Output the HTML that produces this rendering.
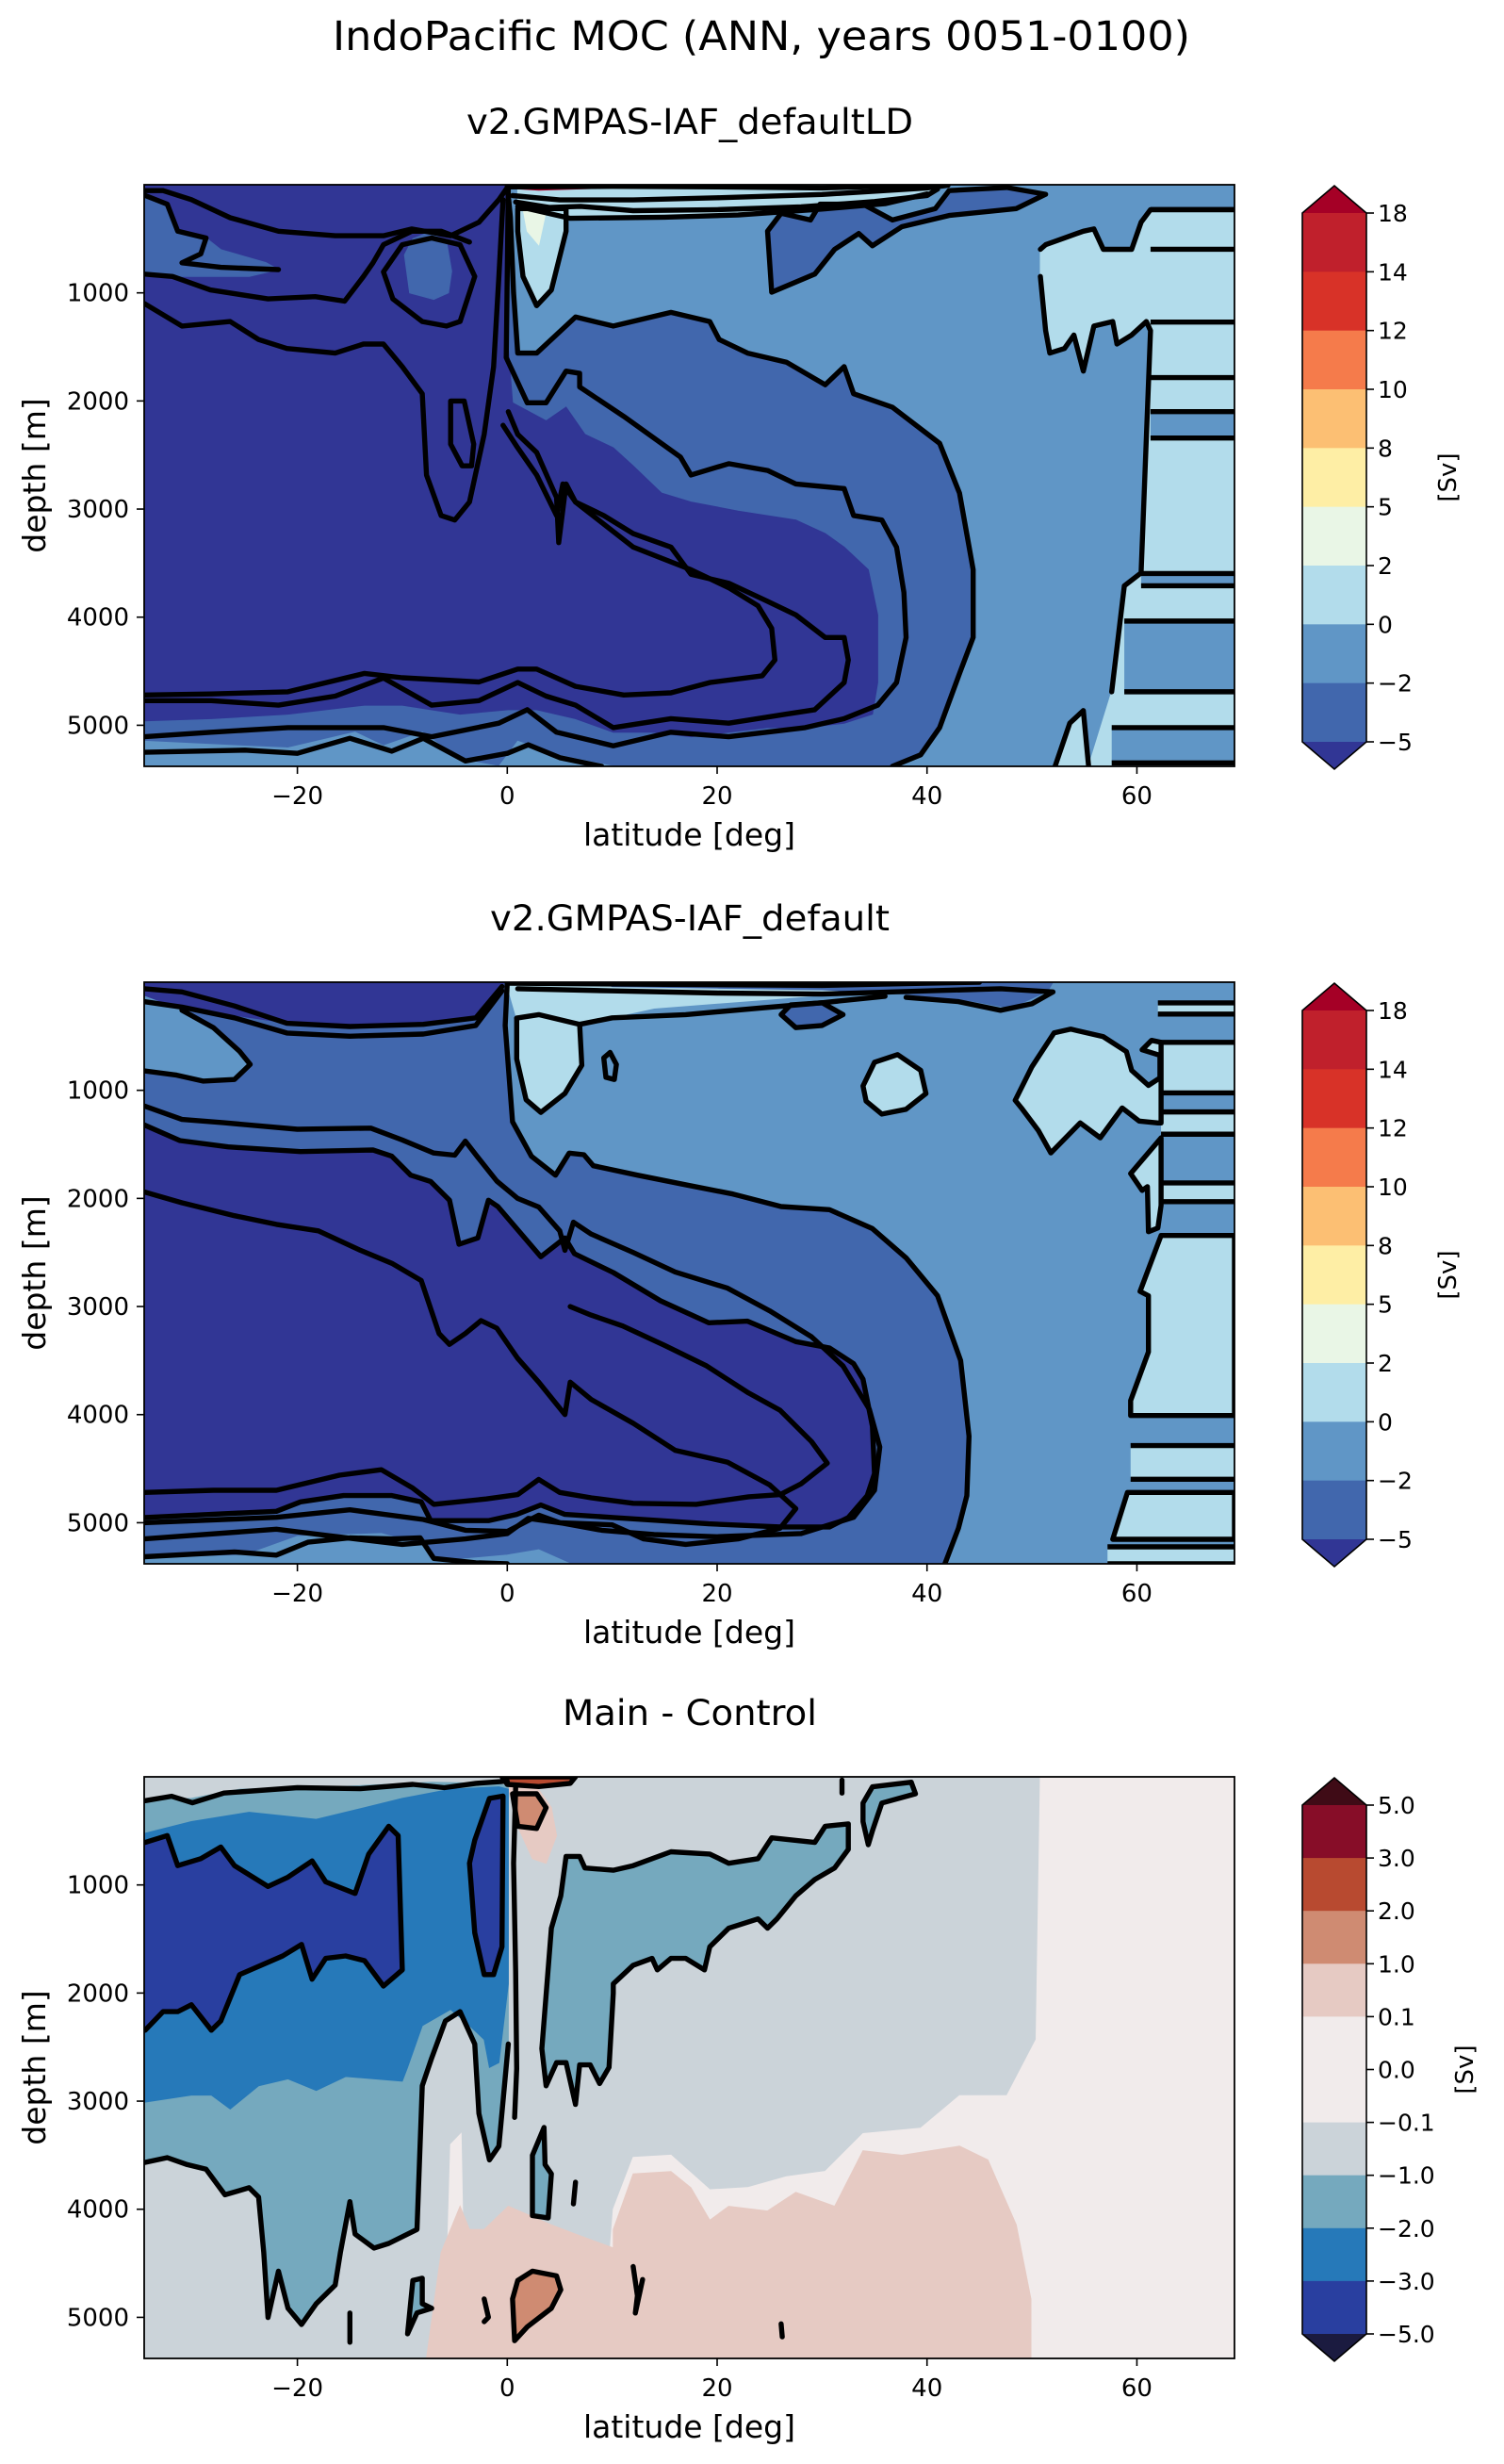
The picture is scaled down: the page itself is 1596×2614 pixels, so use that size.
<!DOCTYPE html>
<html><head><meta charset="utf-8"><title>IndoPacific MOC</title>
<style>
html,body{margin:0;padding:0;background:#fff;}
svg{display:block;font-family:"DejaVu Sans","Liberation Sans",sans-serif;}
</style></head>
<body>
<svg id="fig" width="1596" height="2614" viewBox="0 0 1596 2614" xmlns="http://www.w3.org/2000/svg">
<rect width="1596" height="2614" fill="#fff"/>
<text x="808" y="53" font-size="43" text-anchor="middle" textLength="910" lengthAdjust="spacingAndGlyphs">IndoPacific MOC (ANN, years 0051-0100)</text>
<text x="732" y="142" font-size="37" text-anchor="middle" textLength="474" lengthAdjust="spacingAndGlyphs">v2.GMPAS-IAF_defaultLD</text>
<text x="732" y="987" font-size="37" text-anchor="middle" textLength="424" lengthAdjust="spacingAndGlyphs">v2.GMPAS-IAF_default</text>
<text x="732" y="1830" font-size="37" text-anchor="middle" textLength="270" lengthAdjust="spacingAndGlyphs">Main - Control</text>
<g id="p1"></g>
<g id="p2"></g>
<g id="p3"></g>
</svg>
<script>
// ---------- axis data ----------
const latTicks = [-20, 0, 20, 40, 60];
const latTickLabels = ['\u221220', '0', '20', '40', '60'];
const depthTicks = [1000, 2000, 3000, 4000, 5000];
const depthTickLabels = ['1000', '2000', '3000', '4000', '5000'];
const cb1Levels = ['18', '14', '12', '10', '8', '5', '2', '0', '\u22122', '\u22125'];
const cb1Colors = ['#c0202c', '#d83228', '#f57b4b', '#fcbf73', '#feeea5', '#e9f6e6', '#b2dceb', '#6096c6', '#4167ad'];
const cb3Levels = ['5.0', '3.0', '2.0', '1.0', '0.1', '0.0', '\u22120.1', '\u22121.0', '\u22122.0', '\u22123.0', '\u22125.0'];
const cb3Colors = ['#870d28', '#b84a30', '#cf8b72', '#e6cac3', '#f1ebeb', '#f1ebeb', '#cbd3d9', '#75a9be', '#2679b9', '#293fa0'];

// ---------- panel 1 contour data [lat, depth] ----------
const p1Mid = [[-34.6,0],[0,0],[0.3,300],[0.6,1000],[1,1557],[2.8,1557],[6.5,1223],[10.1,1307],[15.6,1181],[19.3,1265],[20.2,1432],[22.9,1557],[26.6,1641],[30.3,1850],[32.1,1683],[33,1933],[36.7,2058],[41.2,2392],[43.1,2852],[44.4,3561],[44.4,4187],[43.1,4522],[41.2,5022],[39.4,5273],[36.7,5380],[-34.6,5380]];
const p1MidTR = [[25.2,994],[24.8,430],[26.1,263],[28.9,326],[29.8,180],[33.9,180],[36.7,326],[40.8,221],[42.1,54],[47.6,25],[51.3,88],[48.5,221],[42.1,284],[37.6,388],[34.8,564],[33.5,451],[31.2,597],[29.3,827]];
const p1Navy = [[-34.6,0],[0.1,0],[-0.1,1265],[0.5,2017],[3.7,2184],[5.6,2058],[7.4,2309],[10.1,2434],[12,2601],[14.7,2852],[17.5,2935],[22,3019],[27.5,3102],[30.3,3227],[32.1,3352],[34.4,3561],[35.3,3979],[35.3,4605],[34.8,4897],[32.1,4981],[28.4,5022],[24.8,5022],[21.1,5064],[17.5,5106],[13.8,5064],[10.1,5064],[6.5,4939],[2.8,4856],[0.1,4856],[-4.5,4897],[-10,4814],[-13.6,4814],[-20.9,4897],[-28.2,4939],[-34.6,4960]];
const p1MidTL = [[-34.6,96],[-32.4,180],[-31.4,430],[-28.7,493],[-27.3,600],[-23,720],[-21.8,785],[-24.6,848],[-34.6,848]];
const p1Mid8 = [[-9.8,650],[-9,500],[-7.5,440],[-5.8,520],[-5.3,800],[-5.6,1000],[-7,1060],[-9.3,1000]];
const p1BottomLight = [[-34.6,5148],[-25.5,5190],[-20.9,5210],[-14.5,5064],[-11.8,5190],[-8.1,5064],[-4.5,5315],[-0.8,5380],[1,5148],[4.7,5273],[10.1,5380],[-34.6,5380]];
const p1SurfLight = [[1,0],[41.2,0],[40.3,54],[35.7,138],[29.3,180],[23.9,242],[17.5,284],[11.1,305],[6.5,305],[1,180]];
const p1Wedge = [[1,221],[5.6,221],[5.6,430],[4.2,973],[2.8,1119],[1.5,848],[1,430]];
const p1WedgeGreen = [[1.5,221],[3.7,242],[3,555],[1.9,430]];
const p1Red = [[0.2,0],[11,0],[8,35],[3,50],[0.5,35]];
const p1RightLight = [[50.8,597],[51.3,555],[54.9,430],[55.9,409],[56.8,597],[59.5,597],[60.4,347],[61.3,230],[69.3,230],[69.3,5380],[55.4,5380],[57.6,4690],[58.8,3710],[60.4,3590],[61.3,1349],[60.9,1265],[59.5,1390],[58.1,1474],[57.7,1265],[55.9,1307],[54.9,1724],[54,1390],[53.1,1515],[51.7,1557],[51.3,1349],[50.8,848]];
const p1Stripes = [[2099,2343,61.3],[3596,3710,60.4],[4036,4690,58.8],[5022,5348,57.6]];
const p1StripeLines = [[230,61.3],[597,61.3],[1270,61.3],[1784,61.3]];
const p1Sliver = [[52.2,5380],[53.6,4981],[54.9,4864],[55.4,5380]];
const p1LineB = [[0.1,13],[-0.1,1599],[1.9,2017],[3.7,2017],[5.6,1724],[6.9,1745],[6.9,1870],[11.1,2142],[16.5,2518],[17.5,2685],[21.1,2580],[24.8,2643],[27.5,2768],[32.1,2810],[33,3060],[35.7,3102],[37.1,3353],[37.8,3770],[38,4188],[37.1,4605],[35.3,4814],[32.1,4939],[28.4,5022],[21.1,5106],[15.6,5064],[10.1,5190],[4.7,5064],[1.9,4856],[-0.8,4981],[-7.2,5106],[-11.8,5022],[-20.9,5022],[-28.2,5064],[-34.6,5106]];
const p1LineC = [[0.1,2100],[1,2309],[2.8,2476],[4.7,2893],[4.9,3311],[5.6,2768],[6.5,2935],[9.2,3060],[12,3227],[15.6,3352],[17.5,3603],[19.3,3645],[21.1,3686],[24.8,3853],[27.5,3979],[30.3,4188],[32.1,4188],[32.5,4396],[32.1,4605],[29.3,4856],[26.6,4897],[21.1,4981],[15.6,4939],[10.1,5022],[6.5,4814],[3.7,4730],[1,4605],[-2.7,4772],[-7.2,4814],[-11.8,4563],[-16.4,4730],[-21.8,4814],[-28.2,4772],[-34.6,4772]];
const p1LineD = [[-0.4,2225],[1,2434],[2.8,2685],[4.7,3060],[5.3,2768],[6.5,2935],[12,3352],[17.5,3561],[21.1,3728],[23.9,3895],[25.2,4104],[25.5,4396],[24.3,4542],[19.3,4605],[15.6,4700],[11.1,4720],[6.5,4640],[2.8,4480],[1,4480],[-2.7,4600],[-10,4560],[-13.6,4520],[-20.9,4690],[-28.2,4710],[-34.6,4720]];
const p1LineE = [[-34.6,54],[-32.8,54],[-30.1,138],[-26.4,305],[-21.8,430],[-16.4,472],[-11.8,472],[-9.1,409],[-5.4,472],[-2.7,347],[-0.8,138],[0.1,13]];
const p1Line8 = [[-11.8,806],[-10,555],[-7.2,493],[-4.5,555],[-3.1,848],[-4.5,1265],[-5.8,1307],[-8.1,1265],[-10.9,1056],[-11.8,806]];
const p1LineG = [[-34.6,827],[-31.9,848],[-28.3,973],[-22.8,1056],[-18.3,1035],[-15.5,1077],[-13.7,848],[-12.8,722],[-11.8,555],[-9.1,430],[-6.3,430],[-3.6,530]];
const p1LineH = [[-34.6,1098],[-31,1307],[-26.4,1265],[-23.7,1432],[-21,1515],[-16.4,1557],[-13.7,1474],[-11.8,1474],[-10,1683],[-8.1,1933],[-7.7,2685],[-6.3,3060],[-5,3102],[-3.6,2935],[-2.2,2309],[-1.3,1683],[-0.8,848],[-0.4,138]];
const p1LineI = [[-5.4,2000],[-4.1,2000],[-3.2,2400],[-3.4,2600],[-4.3,2600],[-5.4,2400],[-5.4,2000]];
const p1LineTL = [[-34.6,96],[-32.4,180],[-31.4,430],[-28.7,493],[-29.2,639],[-31,722],[-27.3,764],[-21.8,785]];
const p1Surf1 = [[0,20],[10,15],[20,20],[30,30],[38,10],[42,0]];
const p1Surf2 = [[0.5,100],[5,140],[12,140],[20,120],[30,90],[40,30],[42,5]];
const p1Surf3 = [[0.8,160],[4,210],[7,200],[12,240],[20,230],[28,205],[35,155],[40,100],[41,40]];
const p1Surf4 = [[1,200],[6,310],[15,300],[22,280],[30,225],[36,175],[40,85]];
const p1BotL1 = [[-34.6,5250],[-25,5230],[-20,5260],[-15,5120],[-11,5240],[-8,5120],[-4,5330],[0,5260],[2,5180],[5,5300],[9,5380]];

// ---------- panel 2 contour data ----------
const p2Mid = [[-34.6,0],[0,0],[-0.2,400],[0.5,1291],[2.3,1610],[4.6,1785],[5.9,1581],[7.3,1596],[8.2,1698],[12.4,1785],[16.9,1872],[21.5,1959],[26.1,2075],[30.7,2104],[34.8,2279],[38,2550],[41,2900],[43.2,3500],[44,4200],[43.8,4750],[43,5050],[41.7,5380],[-34.6,5380]];
const p2NavyTop = [[-34.6,0],[-0.3,0],[-1.5,200],[-3,330],[-10,400],[-20,390],[-30,250],[-34.6,200]];
const p2PatchTL = [[-34.6,130],[-31,260],[-28,420],[-25.5,640],[-24.5,760],[-26,900],[-29,915],[-31.5,860],[-34.6,820]];
const p2Navy = [[-34.6,1320],[-31.2,1465],[-26.6,1523],[-19.7,1567],[-12.8,1552],[-11,1610],[-9.2,1785],[-7.3,1843],[-5.5,2017],[-4.6,2424],[-2.8,2366],[-1.8,2017],[-0.9,2075],[0.9,2279],[3.2,2540],[5.5,2366],[6.4,2511],[10.1,2686],[14.6,2947],[19.2,3150],[22.9,3136],[27.5,3325],[30.7,3383],[33,3528],[33.9,3673],[34.8,4109],[35,4545],[34.3,4749],[32.5,4952],[30.7,5039],[26.1,5039],[19.2,5010],[14.6,4981],[10.1,4952],[5.5,4923],[3.2,4836],[0.9,4923],[-1.8,4981],[-7.3,4981],[-8.2,4807],[-11,4749],[-15.6,4749],[-19.7,4807],[-22,4894],[-34.6,4952]];
const p2BottomLight = [[-34.6,5330],[-25,5300],[-20,5126],[-12,5100],[-8.2,5200],[-7,5360],[0,5300],[3,5250],[6,5380],[-34.6,5380]];
const p2EqLight = [[0,30],[37,0],[36,40],[30,120],[22,180],[14,240],[6.9,390],[7.1,768],[5.5,1029],[3.2,1204],[1.8,1087],[0.9,710],[0.9,332]];
const p2SurfMid = [[9,0],[52,0],[51.5,80],[48,240],[44,170],[38,110],[30,70],[20,55],[10,40]];
const p2PatchA = [[26.1,300],[27,210],[30,190],[32,300],[30,400],[27.5,420]];
const p2Ellipse = [[33.9,960],[35,740],[37.2,670],[39.4,815],[39.9,1030],[38,1175],[35.7,1220],[34.2,1100]];
const p2Loop = [[9.2,700],[9.8,650],[10.4,760],[10.2,900],[9.4,880]];
const p2Blob = [[48.4,1093],[50,781],[52.1,469],[53.7,434],[56.8,504],[59,642],[59.5,816],[61.1,955],[62.2,885],[62.2,677],[60.5,625],[61.4,538],[62.3,556],[62.3,1302],[62,1302],[60.2,1284],[58.6,1163],[56.5,1440],[54.6,1302],[51.8,1579],[50.6,1371],[49,1163]];
const p2Blob2 = [[62.3,1440],[59.4,1770],[60.5,1926],[61,1891],[61.1,2308],[62,2273],[62.3,2065]];
const p2Boxes = [[191,295,62],[556,1024,62.3],[1200,1406,62.3],[1857,2030,62.3],[4286,4598,59.4],[5223,5400,57.2]];
const p2BigBox = [[62.3,2343],[69.3,2343],[69.3,4008],[59.4,4008],[59.4,3870],[61.1,3420],[61.1,2900],[60.3,2860],[62.3,2343]];
const p2SlantBox = [[59.1,4720],[69.3,4720],[69.3,5153],[57.7,5153]];
const p2LineM = [[-34.6,1145],[-31,1270],[-27,1300],[-20,1360],[-13,1350],[-10,1460],[-7,1580],[-5,1600],[-4,1470],[-2.8,1620],[-1,1840],[1,2000],[3,2080],[5,2300],[5.5,2480],[6.3,2220],[8,2330],[12,2500],[16,2680],[21,2830],[25,3040],[29,3280],[32,3550],[34.5,3950],[35.5,4300],[35,4700],[33,4950],[28,5100],[20,5130],[14,5110],[9,5070],[5,5000],[3,4930],[0,5080],[-4,5070],[-8,4970],[-15,4880],[-22,4950],[-34.6,5000]];
const p2LineN = [[-34.6,1940],[-31,2040],[-26,2160],[-22,2240],[-18,2300],[-14,2480],[-11,2600],[-8.2,2760],[-6.5,3250],[-5.5,3350],[-4,3250],[-2.5,3130],[-1,3200],[1,3480],[3,3700],[5.5,4000],[6,3700],[8,3860],[12,4080],[16,4330],[21,4440],[25,4650],[27.5,4870],[26,5050],[22,5150],[17,5200],[13,5150],[10,5020],[5,5000],[2,4960],[0,5100],[-4,5150],[-10,5200],[-17,5120],[-22,5060],[-34.6,5150]];
const p2LineO = [[-34.6,4720],[-28,4700],[-22,4700],[-16,4560],[-12,4510],[-9,4680],[-7,4830],[-2,4780],[1,4740],[3,4600],[5,4720],[8,4770],[12,4820],[18,4830],[23,4760],[26,4740],[28,4640],[30.5,4450],[29,4250],[26,3960],[23,3800],[19,3550],[15,3360],[11,3180],[8,3080],[6,3000]];
const p2LineP = [[-34.6,5315],[-26,5270],[-22,5300],[-19,5180],[-15,5140],[-11,5150],[-8.3,5140],[-7,5330],[-3,5370],[0,5380]];
const p2LineTop = [[-34.6,60],[-31,90],[-26,220],[-21,380],[-15,410],[-8,390],[-3,330],[-0.5,40]];
const p2LineTop2 = [[-34.6,180],[-31,230],[-26,330],[-21,470],[-15,500],[-8,480],[-3,400],[-0.5,80]];
const p2Surf1 = [[0,10],[15,20],[30,30],[40,10],[45,0]];
const p2Surf2 = [[1,60],[10,80],[20,100],[30,110],[40,80],[47,60],[52,90],[50,200],[47,260],[43,180],[38,140]];
const p2Surf3 = [[0.9,332],[3,300],[6.9,390],[10,330],[17,300],[24,240],[30,190],[36,130]];

// ---------- panel 3 contour data ----------
const p3WhiteRight = [[50.8,6],[69.3,6],[69.3,5410],[9,5410],[10.1,4000],[12,3520],[15.6,3500],[19.3,3820],[22.9,3800],[26.6,3700],[30.3,3650],[33.9,3300],[39.4,3250],[43.1,2950],[47.6,2950],[50.4,2430]];
const p3WhiteEq = [[-6,5410],[-5.4,3400],[-4.4,3300],[-4,5410]];
const p3SalmonBig = [[10.1,5410],[10.1,4187],[12,3673],[15.6,3651],[17.5,3801],[19.3,4102],[21.1,3973],[24.8,4016],[27.5,3844],[31.2,3973],[32.1,3801],[33.9,3458],[37.6,3501],[43.1,3416],[45.8,3544],[48.5,4144],[49.9,4831],[49.9,5410]];
const p3SalmonEq = [[-7.7,5410],[-6.3,4402],[-4.5,3973],[-3.6,4187],[-2.2,4187],[0.1,3973],[4.2,4144],[6.5,4230],[10.1,4359],[10.1,5410]];
const p3SalmonTop = [[0.1,92],[2.8,92],[4.2,285],[4.7,543],[3.7,800],[2.4,757],[1,457]];
const p3OrangeBot = [[0.7,5216],[1.9,5088],[4.2,4916],[5.1,4745],[4.7,4616],[2.4,4573],[1,4659],[0.5,4830]];
const p3OrangeTop = [[0.5,157],[2.8,157],[3.7,285],[2.8,478],[1,457]];
const p3RedTop = [[-0.5,0],[6.5,0],[6,60],[3,90],[0,70]];
const p3LightLeft = [[-34.5,221],[-30.1,200],[-25.5,114],[-16.4,92],[-7.2,50],[-0.8,62],[0.1,92],[0.1,2472],[-0.8,3416],[-1.7,3544],[-2.7,3115],[-3.1,2472],[-4.5,2172],[-5.9,2258],[-7.2,2601],[-8.1,2858],[-8.6,4187],[-11.3,4316],[-12.7,4359],[-14.5,4230],[-15,3930],[-15.9,4402],[-16.4,4702],[-18.2,4873],[-19.6,5066],[-20.9,4916],[-21.8,4573],[-22.8,5002],[-23.2,4402],[-23.7,3887],[-24.6,3801],[-26.9,3866],[-28.7,3630],[-30.5,3587],[-32.4,3523],[-34.5,3566]];
const p3Medium = [[-34.5,521],[-30.1,414],[-24.6,328],[-18.2,393],[-13.6,285],[-10,200],[-5.4,114],[-0.8,92],[0.1,114],[0.1,1915],[-0.8,2644],[-1.7,2687],[-2.2,2429],[-3.6,2301],[-5.4,2151],[-8.1,2301],[-9.5,2687],[-10,2815],[-15.4,2772],[-18.2,2901],[-20.9,2794],[-23.7,2858],[-26.4,3073],[-28.2,2944],[-30.1,2944],[-34.5,3008]];
const p3Dark = [[-34.5,607],[-32.4,543],[-31.4,821],[-29.2,757],[-27.3,650],[-26,821],[-22.8,1014],[-20.9,928],[-18.6,778],[-17.3,971],[-14.5,1079],[-13.2,714],[-11.3,457],[-10.4,543],[-10,1786],[-11.8,1936],[-13.6,1700],[-15.4,1657],[-17.3,1679],[-18.6,1872],[-19.6,1550],[-21.4,1657],[-25.5,1829],[-27.3,2258],[-28.2,2344],[-30.1,2108],[-31.4,2172],[-32.8,2172],[-34.5,2344]];
const p3DarkCol = [[-3.1,586],[-1.7,200],[-0.4,178],[-0.5,1572],[-1.3,1829],[-2.2,1829],[-3.1,1443],[-3.6,800]];
const p3LightRight = [[5.6,736],[6.9,736],[7.4,843],[10.1,864],[12,821],[15.6,693],[19.3,714],[21.1,800],[23.9,757],[25.2,564],[29.3,607],[30.3,457],[32.5,435],[32.5,671],[31.2,843],[29.3,950],[27.5,1100],[25.7,1314],[24.8,1400],[23.9,1314],[21.1,1400],[19.3,1572],[18.8,1786],[17,1679],[15.6,1679],[14.3,1786],[13.8,1679],[12,1743],[10.1,1915],[10.1,2001],[9.7,2687],[8.8,2837],[7.9,2665],[6.9,2665],[6.5,3030],[5.6,2644],[4.7,2644],[3.7,2858],[3.3,2515],[4.2,1400],[5.1,1100]];
const p3SmallTop = [[33.9,242],[34.8,92],[38.5,50],[38.9,157],[35.7,242],[34.8,500],[34.4,628],[33.9,414]];
const p3PatchA = [[-9.5,5152],[-9,4659],[-8.1,4638],[-8.1,4873],[-7.2,4916],[-8.6,4959]];
const p3PatchB = [[2.4,3501],[3.5,3244],[3.6,3587],[4.2,3673],[3.9,4080],[2.4,4059]];
const p3EqLine = [[0.8,100],[0.6,800],[0.8,1800],[0.9,2700],[0.7,3150]];
const p3Seg1 = [[6.5,3750],[6.3,3950]];
const p3Seg2 = [[26.1,5060],[26.2,5180]];
const p3Seg3 = [[-15,4960],[-15,5230]];
const p3Seg4 = [[-2.2,4830],[-1.8,5000],[-2.2,5040]];
const p3Seg5 = [[12,4530],[12.4,4800],[12.2,4960],[12.9,4650]];
const p3Seg6 = [[31.9,30],[31.9,150]];
const p3TopLine = [[-34.5,221],[-32,180],[-30,240],[-27,150],[-20,100],[-14,110],[-9,70],[-6,100],[-3,60],[0,40]];

// ---------- geometry ----------
const X0 = 153, X1 = 1310, LAT0 = -34.6, LAT1 = 69.3, DMAX = 5380, PH = 617;
const TOPS = [196, 1042, 1885];
const NS = 'http://www.w3.org/2000/svg';
function xS(lat) { return X0 + (lat - LAT0) / (LAT1 - LAT0) * (X1 - X0); }
function yS(top, d) { return top + Math.min(d, DMAX) / DMAX * PH; }
function mk(tag, attrs, parent) {
  const e = document.createElementNS(NS, tag);
  for (const k in attrs) e.setAttribute(k, attrs[k]);
  parent.appendChild(e);
  return e;
}
function ptsStr(top, arr) { return arr.map(p => xS(p[0]).toFixed(1) + ',' + yS(top, p[1]).toFixed(1)).join(' '); }
function fillPoly(g, top, arr, color, name) {
  const e = mk('polygon', {points: ptsStr(top, arr), fill: color, stroke: color, 'stroke-width': 1}, g);
  
  
  return e;
}
function line(g, top, arr, name, closed) {
  const e = mk(closed ? 'polygon' : 'polyline', {points: ptsStr(top, arr), fill: 'none', stroke: '#000', 'stroke-width': 5.4, 'stroke-linejoin': 'round', 'stroke-linecap': 'round'}, g);
  
  
  return e;
}
function rectBand(g, top, d0, d1, latL, color, name) {
  const e = mk('rect', {x: xS(latL), y: yS(top, d0), width: xS(LAT1) - xS(latL), height: yS(top, d1) - yS(top, d0), fill: color}, g);
  
  
}
function hline(g, top, d, latL, name) {
  const e = mk('line', {x1: xS(latL), x2: xS(LAT1), y1: yS(top, d), y2: yS(top, d), stroke: '#000', 'stroke-width': 5.4}, g);
  
  
}

function axes(g, idx) {
  const top = TOPS[idx];
  const bot = top + PH;
  const fr = mk('rect', {x: X0, y: top, width: X1 - X0, height: PH, fill: 'none', stroke: '#000', 'stroke-width': 1.8}, g);
  
  
  latTicks.forEach((v, i) => {
    const x = xS(v);
    const t = mk('line', {x1: x, x2: x, y1: bot, y2: bot + 8, stroke: '#000', 'stroke-width': 1.6}, g);
    
    
    const l = mk('text', {x: x, y: bot + 40, 'font-size': 26, 'text-anchor': 'middle'}, g);
    l.textContent = latTickLabels[i];
    
    
  });
  depthTicks.forEach((v, i) => {
    const y = yS(top, v);
    const t = mk('line', {x1: X0 - 8, x2: X0, y1: y, y2: y, stroke: '#000', 'stroke-width': 1.6}, g);
    
    
    const l = mk('text', {x: X0 - 16, y: y + 9, 'font-size': 26, 'text-anchor': 'end'}, g);
    l.textContent = depthTickLabels[i];
    
    
  });
  const xl = mk('text', {x: (X0 + X1) / 2, y: bot + 84, 'font-size': 33, 'text-anchor': 'middle'}, g);
  xl.textContent = 'latitude [deg]';
  
  
  const cy = top + PH / 2;
  const yl = mk('text', {x: 0, y: 0, 'font-size': 33, 'text-anchor': 'middle', transform: 'translate(48,' + cy + ') rotate(-90)'}, g);
  yl.textContent = 'depth [m]';
  
  
}

function colorbar(g, idx, colors, labels, extTop, extBot, labelX) {
  const top = TOPS[idx] + 30, h = 561, L = 1382, R = 1450, C = 1416;
  const n = colors.length, bh = h / n;
  colors.forEach((c, i) => {
    const r = mk('rect', {x: L, y: top + i * bh, width: R - L, height: bh + 0.6, fill: c}, g);
    
    
  });
  const t1 = mk('polygon', {points: L + ',' + top + ' ' + C + ',' + (top - 29) + ' ' + R + ',' + top, fill: extTop}, g);
  
  
  const t2 = mk('polygon', {points: L + ',' + (top + h) + ' ' + C + ',' + (top + h + 29) + ' ' + R + ',' + (top + h), fill: extBot}, g);
  
  
  const o = mk('polygon', {points: L + ',' + top + ' ' + C + ',' + (top - 29) + ' ' + R + ',' + top + ' ' + R + ',' + (top + h) + ' ' + C + ',' + (top + h + 29) + ' ' + L + ',' + (top + h), fill: 'none', stroke: '#000', 'stroke-width': 1.6}, g);
  
  
  labels.forEach((s, i) => {
    const y = top + i * bh;
    const t = mk('line', {x1: R, x2: R + 8, y1: y, y2: y, stroke: '#000', 'stroke-width': 1.6}, g);
    
    
    const l = mk('text', {x: 1462, y: y + 9, 'font-size': 25}, g);
    l.textContent = s;
    
    
  });
  const u = mk('text', {x: 0, y: 0, 'font-size': 26, 'text-anchor': 'middle', transform: 'translate(' + labelX + ',' + (top + h / 2) + ') rotate(-90)'}, g);
  u.textContent = '[Sv]';
  
  
}

function clipFor(idx) {
  const svg = document.getElementById('fig');
  let defs = svg.querySelector('defs');
  if (!defs) defs = mk('defs', {}, svg);
  const cp = mk('clipPath', {id: 'clip' + idx}, defs);
  mk('rect', {x: X0, y: TOPS[idx], width: X1 - X0, height: PH}, cp);
  return 'url(#clip' + idx + ')';
}

const C = {navy: '#313695', m52: '#4167ad', m20: '#6096c6', l02: '#b2dceb', g25: '#e9f6e6', red: '#a50026', yel: '#feeea5'};

// ---------- panel 1 ----------
(function () {
  const G = document.getElementById('p1'), top = TOPS[0];
  const g = mk('g', {'clip-path': clipFor(0)}, G);
  const bg = mk('rect', {x: X0, y: top, width: X1 - X0, height: PH, fill: C.m20}, g);
  
  
  fillPoly(g, top, p1Mid, C.m52, 'fill-minus5-minus2');
  fillPoly(g, top, p1MidTR, C.m52, 'fill-minus5-minus2-north');
  fillPoly(g, top, p1Navy, C.navy, 'fill-below-minus5');
  fillPoly(g, top, p1MidTL, C.m52, 'fill-patch-southwest');
  fillPoly(g, top, p1Mid8, C.m52, 'fill-patch-8s');
  fillPoly(g, top, p1BottomLight, C.m20, 'fill-bottom');
  fillPoly(g, top, p1SurfLight, C.l02, 'fill-surface-positive');
  fillPoly(g, top, p1Wedge, C.l02, 'fill-equator-wedge');
  fillPoly(g, top, p1WedgeGreen, C.g25, 'fill-equator-2-5');
  fillPoly(g, top, p1Red, C.red, 'fill-surface-max');
  fillPoly(g, top, p1RightLight, C.l02, 'fill-north-positive');
  p1Stripes.forEach(s => rectBand(g, top, s[0], s[1], s[2], C.m20, 'fill-north-stripe'));
  fillPoly(g, top, p1Sliver, C.l02, 'fill-north-sliver');
  line(g, top, p1Mid.slice(1, -1), 'contour-minus2');
  [p1LineB, p1LineC, p1LineD, p1LineE, p1LineG, p1LineH, p1LineTL, p1Surf1, p1Surf2, p1Surf3, p1Surf4, p1BotL1].forEach(a => line(g, top, a, 'contour-line'));
  line(g, top, p1Line8, 'contour-loop', true);
  line(g, top, p1LineI, 'contour-loop', true);
  line(g, top, p1MidTR, 'contour-north-patch', true);
  line(g, top, p1Wedge, 'contour-equator-wedge', true);
  line(g, top, p1RightLight.slice(0, 8).concat([[69.3, 230]]), 'contour-north-positive');
  line(g, top, p1RightLight.slice(11), 'contour-north-positive');
  line(g, top, p1Sliver, 'contour-north-sliver');
  p1Stripes.forEach(s => { hline(g, top, s[0], s[2], 'contour-stripe'); hline(g, top, s[1], s[2], 'contour-stripe'); });
  p1StripeLines.forEach(s => hline(g, top, s[0], s[1], 'contour-stripe'));
  axes(G, 0);
  colorbar(G, 0, cb1Colors, cb1Levels, C.red, C.navy, 1545);
})();

// ---------- panel 2 ----------
(function () {
  const G = document.getElementById('p2'), top = TOPS[1];
  const g = mk('g', {'clip-path': clipFor(1)}, G);
  const bg = mk('rect', {x: X0, y: top, width: X1 - X0, height: PH, fill: C.m20}, g);
  
  
  fillPoly(g, top, p2Mid, C.m52, 'fill-minus5-minus2');
  fillPoly(g, top, p2NavyTop, C.navy, 'fill-surface-negative');
  fillPoly(g, top, p2PatchTL, C.m20, 'fill-patch-southwest');
  fillPoly(g, top, p2Navy, C.navy, 'fill-below-minus5');
  fillPoly(g, top, p2BottomLight, C.m20, 'fill-bottom');
  fillPoly(g, top, p2EqLight, C.l02, 'fill-equator-positive');
  fillPoly(g, top, p2SurfMid, C.m52, 'fill-surface-band');
  fillPoly(g, top, p2PatchA, C.m52, 'fill-patch-north');
  fillPoly(g, top, p2Ellipse, C.l02, 'fill-ellipse');
  fillPoly(g, top, p2Blob, C.l02, 'fill-north-blob');
  fillPoly(g, top, p2Blob2, C.l02, 'fill-north-blob2');
  p2Boxes.forEach(b => rectBand(g, top, b[0], b[1], b[2], C.l02, 'fill-north-box'));
  fillPoly(g, top, p2BigBox, C.l02, 'fill-north-box');
  fillPoly(g, top, p2SlantBox, C.l02, 'fill-north-box');
  line(g, top, p2Mid.slice(1, -1), 'contour-minus2');
  [p2LineM, p2LineN, p2LineO, p2LineP, p2LineTop, p2LineTop2, p2Surf1, p2Surf2, p2Surf3].forEach(a => line(g, top, a, 'contour-line'));
  line(g, top, p2Navy, 'contour-minus5', false);
  line(g, top, p2PatchTL.slice(1), 'contour-patch');
  line(g, top, p2EqLight.slice(6), 'contour-equator');
  line(g, top, p2PatchA, 'contour-patch', true);
  line(g, top, p2Ellipse, 'contour-ellipse', true);
  line(g, top, p2Loop, 'contour-loop', true);
  line(g, top, p2Blob, 'contour-blob', true);
  line(g, top, p2Blob2, 'contour-blob', true);
  p2Boxes.forEach(b => { hline(g, top, b[0], b[2], 'contour-box'); hline(g, top, b[1], b[2], 'contour-box'); });
  line(g, top, p2BigBox, 'contour-box', true);
  line(g, top, p2SlantBox, 'contour-box', true);
  axes(G, 1);
  colorbar(G, 1, cb1Colors, cb1Levels, C.red, C.navy, 1545);
})();

// ---------- panel 3 ----------
(function () {
  const G = document.getElementById('p3'), top = TOPS[2];
  const g = mk('g', {'clip-path': clipFor(2)}, G);
  const bg = mk('rect', {x: X0, y: top, width: X1 - X0, height: PH, fill: '#cbd3d9'}, g);
  
  
  fillPoly(g, top, p3WhiteRight, '#f1ebeb', 'fill-near-zero-north');
  fillPoly(g, top, p3WhiteEq, '#f1ebeb', 'fill-near-zero-equator');
  fillPoly(g, top, p3SalmonBig, '#e6cac3', 'fill-0p1-1');
  fillPoly(g, top, p3SalmonEq, '#e6cac3', 'fill-0p1-1-equator');
  fillPoly(g, top, p3SalmonTop, '#e6cac3', 'fill-0p1-1-top');
  fillPoly(g, top, p3OrangeBot, '#cf8b72', 'fill-1-2-bottom');
  fillPoly(g, top, p3OrangeTop, '#cf8b72', 'fill-1-2-top');
  fillPoly(g, top, p3RedTop, '#b84a30', 'fill-2-3-top');
  fillPoly(g, top, p3LightLeft, '#75a9be', 'fill-minus2-minus1');
  fillPoly(g, top, p3Medium, '#2679b9', 'fill-minus3-minus2');
  fillPoly(g, top, p3Dark, '#293fa0', 'fill-minus5-minus3');
  fillPoly(g, top, p3DarkCol, '#293fa0', 'fill-minus5-minus3-column');
  fillPoly(g, top, p3LightRight, '#75a9be', 'fill-minus2-minus1-north');
  fillPoly(g, top, p3SmallTop, '#75a9be', 'fill-minus2-minus1-small');
  fillPoly(g, top, p3PatchA, '#75a9be', 'fill-minus2-minus1-patch');
  fillPoly(g, top, p3PatchB, '#75a9be', 'fill-minus2-minus1-patch');
  line(g, top, p3LightLeft.slice(7), 'contour-minus1');
  line(g, top, p3TopLine, 'contour-minus1-top');
  line(g, top, p3Dark, 'contour-minus3');
  line(g, top, p3DarkCol, 'contour-minus3-column', true);
  line(g, top, p3LightRight, 'contour-minus1-north', true);
  line(g, top, p3SmallTop, 'contour-minus1-small', true);
  line(g, top, p3PatchA, 'contour-patch', true);
  line(g, top, p3PatchB, 'contour-patch', true);
  line(g, top, p3OrangeBot, 'contour-plus1', true);
  line(g, top, p3OrangeTop, 'contour-plus1-top', true);
  line(g, top, p3RedTop, 'contour-plus2-top', true);
  [p3EqLine, p3Seg1, p3Seg2, p3Seg3, p3Seg4, p3Seg5, p3Seg6].forEach(a => line(g, top, a, 'contour-segment'));
  axes(G, 2);
  colorbar(G, 2, cb3Colors, cb3Levels, '#3f0b16', '#1b1b40', 1563);
})();
</script>
</body></html>
